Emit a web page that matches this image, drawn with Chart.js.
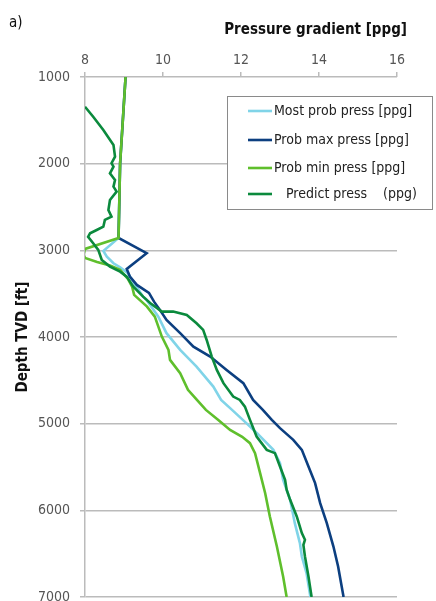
<!DOCTYPE html>
<html>
<head>
<meta charset="utf-8">
<script src="https://cdn.jsdelivr.net/npm/chart.js@4.4.1/dist/chart.umd.min.js"></script>
<style>
  html, body { margin: 0; padding: 0; background: #fff; }
</style>
</head>
<body>
<canvas id="chart" width="436" height="601"></canvas>
<script>
// values: depth in ft, gradient in ppg
const depthTicks = [1000, 2000, 3000, 4000, 5000, 6000, 7000];
const gradTicks = [8, 10, 12, 14, 16];

const mostDepth = [1000, 2000, 2857, 3007, 3073, 3149, 3197, 3264, 3380, 3534, 3572, 3765, 3956, 4149, 4341, 4572, 4726, 4841, 4991, 5110, 5302, 5456, 5648, 5879, 6148, 6378, 6533, 6724, 7000];
const mostPpg = [9.04, 8.90, 8.86, 8.47, 8.56, 8.73, 8.90, 9.10, 9.26, 9.49, 9.58, 9.88, 10.09, 10.44, 10.86, 11.29, 11.49, 11.77, 12.13, 12.41, 12.83, 13.00, 13.08, 13.26, 13.38, 13.51, 13.56, 13.68, 13.78];

const maxDepth = [1000, 2000, 2857, 3033, 3214, 3303, 3399, 3491, 3592, 3687, 3803, 3956, 4111, 4226, 4380, 4533, 4726, 4841, 4956, 5052, 5187, 5302, 5495, 5686, 5917, 6148, 6418, 6648, 7000];
const maxPpg = [9.04, 8.90, 8.86, 9.58, 9.07, 9.15, 9.33, 9.64, 9.77, 9.92, 10.09, 10.44, 10.78, 11.21, 11.63, 12.06, 12.31, 12.56, 12.79, 13.00, 13.34, 13.56, 13.73, 13.90, 14.03, 14.20, 14.37, 14.49, 14.63];

const minDepth = [1000, 2000, 2857, 2984, 3053, 3088, 3134, 3174, 3226, 3330, 3422, 3514, 3649, 3765, 3995, 4149, 4264, 4418, 4610, 4726, 4841, 4956, 5072, 5152, 5225, 5340, 5571, 5802, 6071, 6418, 6764, 7000];
const minPpg = [9.04, 8.90, 8.86, 8.00, 7.96, 8.00, 8.31, 8.64, 8.90, 9.10, 9.21, 9.26, 9.59, 9.79, 9.97, 10.14, 10.18, 10.44, 10.64, 10.87, 11.10, 11.41, 11.72, 12.03, 12.23, 12.36, 12.49, 12.62, 12.74, 12.92, 13.08, 13.17];

const predDepth = [1343, 1458, 1611, 1784, 1919, 1995, 2035, 2111, 2188, 2265, 2323, 2419, 2534, 2611, 2649, 2727, 2765, 2803, 2845, 2918, 2995, 3111, 3188, 3246, 3303, 3419, 3534, 3607, 3707, 3707, 3745, 3841, 3918, 4034, 4226, 4380, 4533, 4687, 4726, 4803, 4956, 5149, 5302, 5340, 5495, 5648, 5763, 5879, 6071, 6263, 6340, 6398, 6533, 6764, 7000];
const predPpg = [8.00, 8.21, 8.47, 8.73, 8.77, 8.68, 8.73, 8.64, 8.77, 8.73, 8.81, 8.64, 8.60, 8.68, 8.51, 8.47, 8.30, 8.13, 8.08, 8.21, 8.34, 8.43, 8.64, 8.90, 9.07, 9.24, 9.49, 9.67, 9.97, 10.26, 10.61, 10.86, 11.03, 11.12, 11.25, 11.38, 11.55, 11.80, 11.97, 12.10, 12.23, 12.40, 12.66, 12.87, 13.00, 13.13, 13.17, 13.26, 13.43, 13.56, 13.64, 13.60, 13.64, 13.73, 13.81];

const FONT = "'DejaVu Sans Condensed', 'Liberation Sans', sans-serif";

function pts(depths, vals) {
    return depths.map((d, i) => ({ x: vals[i], y: d }));
}

function series(label, depths, vals, color, order) {
    return {
        label: label,
        data: pts(depths, vals),
        borderColor: color,
        backgroundColor: color,
        borderWidth: 2.6,
        pointRadius: 0,
        showLine: true,
        tension: 0,
        order: order
    };
}

//legend box, top title and panel letter drawn on the canvas
const extras = {
    id: 'extras',
    afterDraw(chart) {
        const ctx = chart.ctx;
        ctx.save();
        ctx.fillStyle = '#111';
        ctx.font = "15px " + FONT;
        ctx.textBaseline = 'middle';
        ctx.textAlign = 'left';
        ctx.fillText('a)', 9, 23);

        ctx.font = "bold 15px " + FONT;
        ctx.textAlign = 'right';
        ctx.fillText('Pressure gradient [ppg]', 407, 30);

        // legend
        ctx.fillStyle = '#fff';
        ctx.fillRect(227.5, 96.5, 205, 113);
        ctx.strokeStyle = '#8a8a8a';
        ctx.lineWidth = 1;
        ctx.strokeRect(227.5, 96.5, 205, 113);
        const rows = [111, 140, 168, 194];
        ctx.font = "14px " + FONT;
        ctx.textAlign = 'left';
        chart.data.datasets.forEach((ds, i) => {
            ctx.strokeStyle = ds.borderColor;
            ctx.lineWidth = 2.6;
            ctx.beginPath();
            ctx.moveTo(248, rows[i]);
            ctx.lineTo(272, rows[i]);
            ctx.stroke();
            ctx.fillStyle = '#222';
            ctx.fillText(ds.label, 274, rows[i]);
        });
        ctx.restore();
    }
};

new Chart(document.getElementById('chart'), {
    type: 'scatter',
    data: {
        datasets: [
            series('Most prob press [ppg]', mostDepth, mostPpg, '#80d4e8', 3),
            series('Prob max press [ppg]', maxDepth, maxPpg, '#0c3f80', 2),
            series('Prob min press [ppg]', minDepth, minPpg, '#5fbf2c', 1),
            series('   Predict press    (ppg)', predDepth, predPpg, '#0b8a3d', 0)
        ]
    },
    options: {
        responsive: false,
        animation: false,
        layout: { padding: { left: 0, right: 39, top: 0, bottom: 4 } },
        plugins: { legend: { display: false }, tooltip: { enabled: false } },
        scales: {
            x: {
                type: 'linear',
                position: 'top',
                min: 8,
                max: 16,
                afterBuildTicks: (s) => { s.ticks = gradTicks.map(v => ({ value: v })); },
                ticks: { color: '#555', font: { family: FONT, size: 14 }, padding: 3, callback: (v) => String(v) },
                grid: { drawOnChartArea: false, tickLength: 5, color: '#bbb', lineWidth: 1.5 },
                border: { display: false },
                afterFit: (s) => { s.height = 77; s.paddingLeft = 0; s.paddingRight = 0; }
            },
            y: {
                type: 'linear',
                reverse: true,
                min: 1000,
                max: 7000,
                afterBuildTicks: (s) => { s.ticks = depthTicks.map(v => ({ value: v })); },
                ticks: { color: '#555', font: { family: FONT, size: 14 }, padding: 10, callback: (v) => String(v) },
                grid: { color: '#bbb', lineWidth: 1.5, tickLength: 5 },
                border: { display: true, color: '#bbb', width: 1.5 },
                title: {
                    display: true,
                    text: 'Depth TVD [ft]',
                    color: '#111',
                    font: { family: FONT, size: 15, weight: 'bold' },
                    padding: { top: 14, bottom: 0 }
                },
                afterFit: (s) => { s.width = 85; s.paddingTop = 0; s.paddingBottom = 0; }
            }
        }
    },
    plugins: [extras]
});
</script>
</body>
</html>
